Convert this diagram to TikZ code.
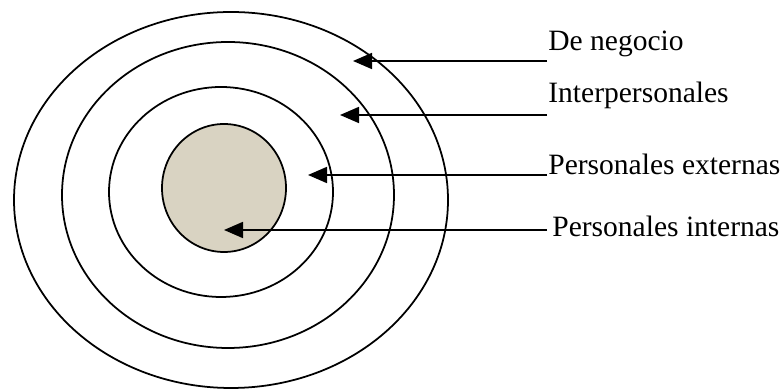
\documentclass[tikz,border=0pt]{standalone}
\usepackage{fontspec}
\setmainfont{Liberation Serif}
\usetikzlibrary{arrows.meta}
\definecolor{nucleo}{RGB}{217,211,194}

\begin{document}
\begin{tikzpicture}[
		ring/.style={line width=1pt},
		pointer/.style={line width=1pt, -{Triangle[length=0.38cm, width=0.32cm]}},
		tag/.style={anchor=base west, inner sep=0pt, font=\fontsize{16.8}{20}\selectfont}
	]
		\useasboundingbox (0, 0) rectangle (15.64, 7.8);

		% rings
		\draw[ring] (4.62, 3.80) ellipse (4.34 and 3.76);
		\draw[ring] (4.56, 3.90) ellipse (3.32 and 3.06);
		\draw[ring] (4.42, 3.96) ellipse (2.24 and 2.10);
		\draw[ring, fill=nucleo] (4.48, 4.04) ellipse (1.24 and 1.28);

		% labels
		\node[tag] (neg) at (10.96, 6.78) {De negocio};
		\node[tag] (inter) at (10.96, 5.74) {Interpersonales};
		\node[tag] (ext) at (10.96, 4.30) {Personales externas};
		\node[tag] (int) at (11.04, 3.06) {Personales internas};

		% arrow ends
		\coordinate (E1) at (10.94, 6.58);
		\coordinate (T1) at (7.06, 6.58);
		\coordinate (E2) at (10.94, 5.50);
		\coordinate (T2) at (6.80, 5.50);
		\coordinate (E3) at (10.94, 4.30);
		\coordinate (T3) at (6.16, 4.30);
		\coordinate (E4) at (10.94, 3.20);
		\coordinate (T4) at (4.48, 3.20);

		\draw[pointer] (E1) -- (T1);
		\draw[pointer] (E2) -- (T2);
		\draw[pointer] (E3) -- (T3);
		\draw[pointer] (E4) -- (T4);
	\end{tikzpicture}
\end{document}
